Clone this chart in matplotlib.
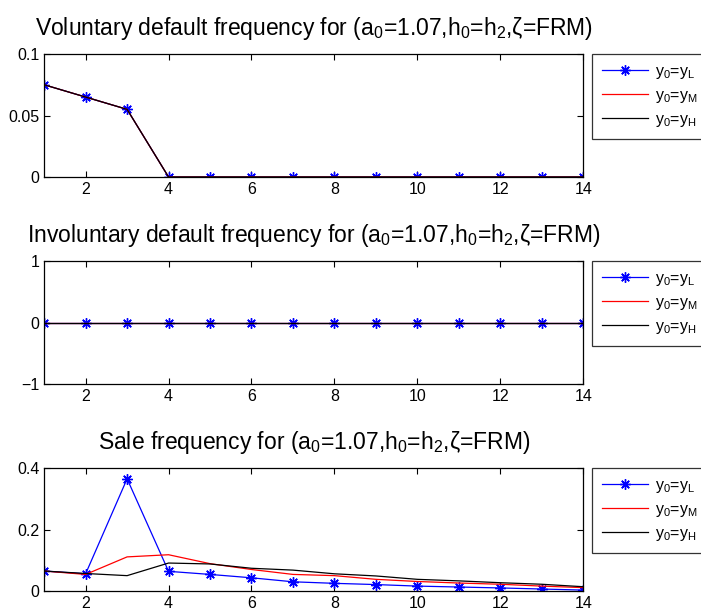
import matplotlib
matplotlib.use("Agg")
import matplotlib.pyplot as plt

plt.rcParams['font.family'] = ['Liberation Sans', 'DejaVu Sans']
plt.rcParams['mathtext.fontset'] = 'custom'
plt.rcParams['mathtext.rm'] = 'Liberation Sans'
plt.rcParams['mathtext.it'] = 'Liberation Sans'
plt.rcParams['mathtext.default'] = 'rm'

periods = list(range(1, 15))

vol_L = [0.075, 0.065, 0.055, 0, 0, 0, 0, 0, 0, 0, 0, 0, 0, 0]
vol_M = [0.075, 0.065, 0.055, 0, 0, 0, 0, 0, 0, 0, 0, 0, 0, 0]
vol_H = [0.075, 0.065, 0.055, 0, 0, 0, 0, 0, 0, 0, 0, 0, 0, 0]

invol_L = [0] * 14
invol_M = [0] * 14
invol_H = [0] * 14

sale_L = [0.065, 0.056, 0.365, 0.064, 0.054, 0.043, 0.030, 0.025, 0.021, 0.016, 0.013, 0.010, 0.0065, 0.003]
sale_M = [0.065, 0.054, 0.111, 0.118, 0.089, 0.070, 0.054, 0.050, 0.038, 0.031, 0.026, 0.022, 0.016, 0.011]
sale_H = [0.065, 0.057, 0.050, 0.091, 0.088, 0.074, 0.068, 0.056, 0.049, 0.038, 0.033, 0.027, 0.022, 0.014]

labels = ['$y_0$=$y_L$', '$y_0$=$y_M$', '$y_0$=$y_H$']
sub = '(a$_0$=1.07,h$_0$=h$_2$,\u03b6=FRM)'
titles = ['Voluntary default frequency for ' + sub,
          'Involuntary default frequency for ' + sub,
          'Sale frequency for ' + sub]

panels = [
    (vol_L, vol_M, vol_H, (0, 0.1), [0, 0.05, 0.1], ['0', '0.05', '0.1']),
    (invol_L, invol_M, invol_H, (-1, 1), [-1, 0, 1], ['\u22121', '0', '1']),
    (sale_L, sale_M, sale_H, (0, 0.4), [0, 0.2, 0.4], ['0', '0.2', '0.4']),
]

fig = plt.figure(figsize=(7.01, 6.11), dpi=100)
bottoms = [0.7103, 0.3715, 0.0327]
for i, (yl, ym, yh, ylim, yt, ytl) in enumerate(panels):
    ax = fig.add_axes([0.063, bottoms[i], 0.769, 0.2013])
    ax.plot(periods, yl, color='blue', marker=(8, 2, 0), markersize=7.5,
            markeredgewidth=1.0, lw=0.9, label=labels[0])
    ax.plot(periods, ym, color='red', lw=0.9, label=labels[1])
    ax.plot(periods, yh, color='black', lw=0.9, label=labels[2])
    ax.set_xlim(1, 14)
    ax.set_ylim(*ylim)
    ax.set_xticks([2, 4, 6, 8, 10, 12, 14])
    ax.set_yticks(yt)
    ax.set_yticklabels(ytl)
    ax.tick_params(direction='in', top=True, right=True, labelsize=11.5, length=4)
    for s in ax.spines.values():
        s.set_linewidth(0.9)
    ax.set_title(titles[i], fontsize=16.5, pad=14)
    leg = ax.legend(loc='upper left', bbox_to_anchor=(1.017, 1.0), fontsize=11.5,
                    frameon=True, fancybox=False, edgecolor='black',
                    handlelength=2.9, labelspacing=0.45, borderaxespad=0,
                    handletextpad=0.4, borderpad=0.6)
    leg.get_frame().set_linewidth(0.9)

fig.savefig('out.png', dpi=100)
